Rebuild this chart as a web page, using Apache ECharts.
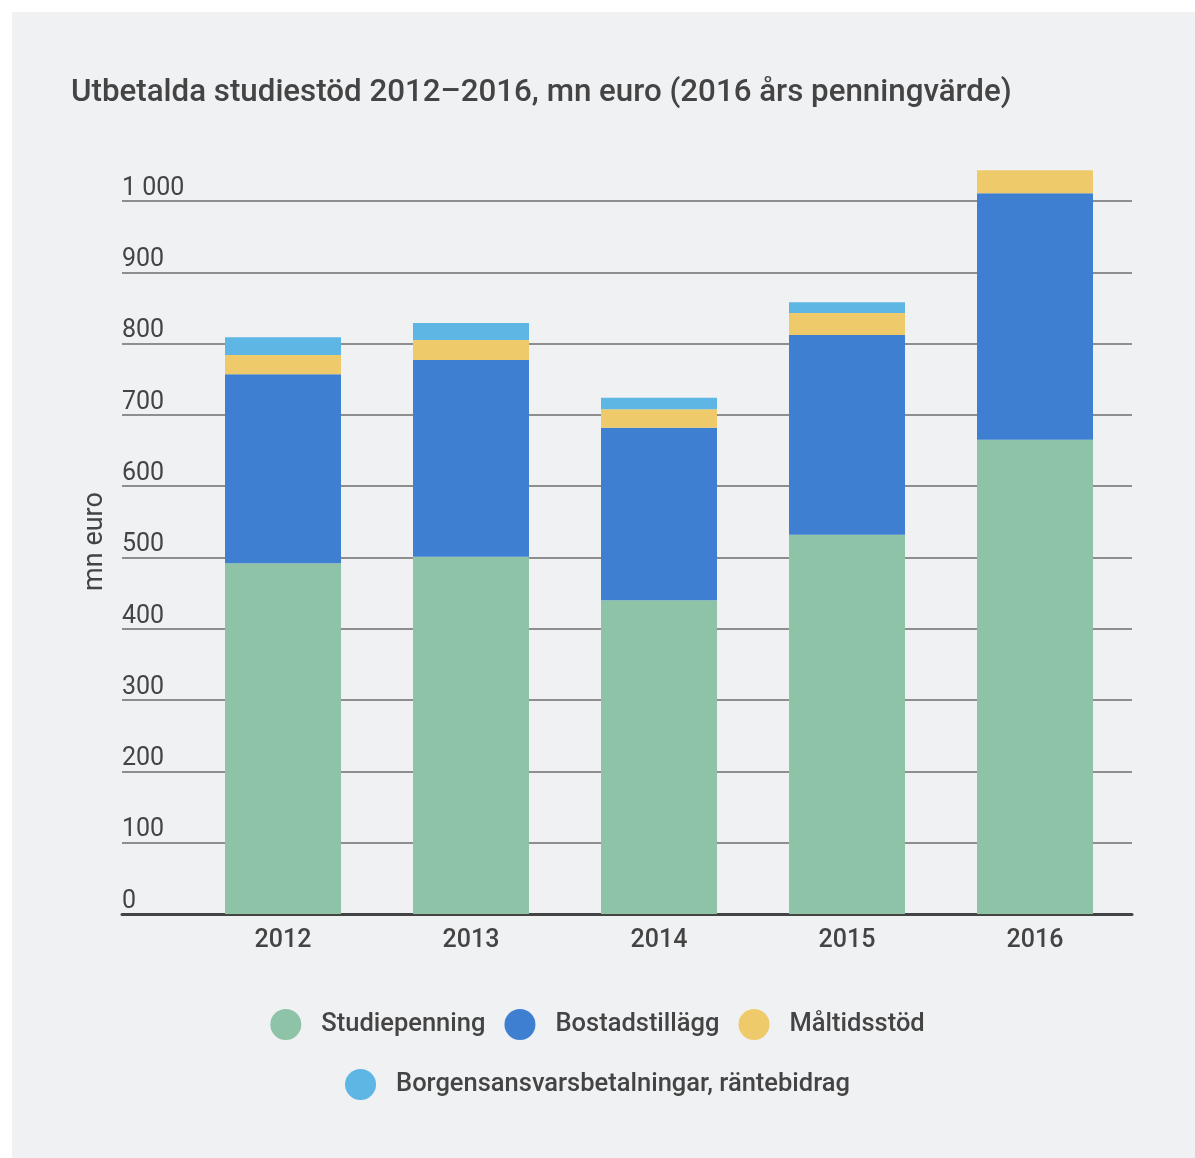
<!DOCTYPE html>
<html>
<head>
<meta charset="utf-8">
<script src="https://cdn.jsdelivr.net/npm/echarts@6/dist/echarts.min.js"></script>
<style>
  html, body { margin: 0; padding: 0; background: #ffffff; }
  #panel { position: absolute; left: 12px; top: 12px; width: 1183px; height: 1146px; background: #f0f1f3; }
  #chart { position: absolute; left: 0; top: 0; width: 1195px; height: 1158px; }
</style>
</head>
<body>
<div id="panel"></div>
<div id="chart"></div>
<script>
const years = ['2012', '2013', '2014', '2015', '2016'];
const studiepenning = [492, 501, 440, 532, 665];
const bostadstillagg = [265, 276, 242, 280, 346];
const maltidsstod = [27, 28, 26, 31, 32];
const borgen = [25, 24, 16, 15, 0];
const seriesNames = ['Studiepenning', 'Bostadstillägg', 'Måltidsstöd', 'Borgensansvarsbetalningar, räntebidrag'];
const colors = ['#8ec3a7', '#3f7fd1', '#efca6b', '#5eb6e4'];

const chart = echarts.init(document.getElementById('chart'));
const font = 'Roboto';
const txt = '#444444';

function barSeries(name, data, color) {
  return {
    name: name, type: 'bar', stack: 'total', data: data,
    xAxisIndex: 1, yAxisIndex: 1, barWidth: 116, clip: false,
    itemStyle: { color: color }, emphasis: { disabled: true }
  };
}

const legendText = { fontFamily: font, fontSize: 25.5, fontWeight: 500, color: txt, padding: [0, 0, 0, 15] };

chart.setOption({
  backgroundColor: 'transparent',
  animation: false,
  color: colors,
  textStyle: { fontFamily: font },
  title: {
    text: 'Utbetalda studiestöd 2012–2016, mn euro (2016 års penningvärde)',
    left: 66, top: 73,
    textStyle: { fontFamily: font, fontSize: 31.3, fontWeight: 500, color: txt }
  },
  legend: [
    {
      data: seriesNames.slice(0, 3), top: 1004, left: 'center',
      icon: 'circle', itemWidth: 31, itemHeight: 31, itemGap: 19,
      selectedMode: false, textStyle: legendText
    },
    {
      data: seriesNames.slice(3), top: 1064, left: 'center',
      icon: 'circle', itemWidth: 31, itemHeight: 31, itemGap: 19,
      selectedMode: false, textStyle: legendText
    }
  ],
  grid: [
    { left: 122, right: 63, top: 201, bottom: 244 },
    { left: 189, right: 66, top: 201, bottom: 244 }
  ],
  xAxis: [
    {
      type: 'value', gridIndex: 0, min: 0, max: 1,
      axisLine: { show: true, onZero: false, lineStyle: { color: '#444444', width: 3 } },
      axisTick: { show: false }, axisLabel: { show: false }, splitLine: { show: false }
    },
    {
      type: 'category', gridIndex: 1, data: years,
      axisLine: { show: false }, axisTick: { show: false },
      axisLabel: { margin: 14, fontFamily: font, fontSize: 25, fontWeight: 500, color: txt }
    }
  ],
  yAxis: [
    {
      type: 'value', gridIndex: 0, min: 0, max: 1000, interval: 100,
      name: 'mn euro', nameLocation: 'middle', nameRotate: 90, nameGap: 13,
      nameTextStyle: { fontFamily: font, fontSize: 27, color: txt, padding: [0, 0, 0, 32] },
      axisLine: { show: false }, axisTick: { show: false },
      axisLabel: {
        inside: true, margin: 0, align: 'left', verticalAlign: 'bottom',
        padding: [0, 0, 0, 0],
        fontFamily: font, fontSize: 25, color: txt,
        formatter: function (v) { return v >= 1000 ? String(v).replace(/(\d)(\d{3})$/, '$1 $2') : String(v); }
      },
      splitLine: { show: true, lineStyle: { color: '#8e8e8e', width: 2 } }
    },
    {
      type: 'value', gridIndex: 1, min: 0, max: 1000, interval: 100, show: false,
      splitLine: { show: false }
    }
  ],
  series: [
    barSeries(seriesNames[0], studiepenning, colors[0]),
    barSeries(seriesNames[1], bostadstillagg, colors[1]),
    barSeries(seriesNames[2], maltidsstod, colors[2]),
    barSeries(seriesNames[3], borgen, colors[3])
  ]
});
</script>
</body>
</html>
